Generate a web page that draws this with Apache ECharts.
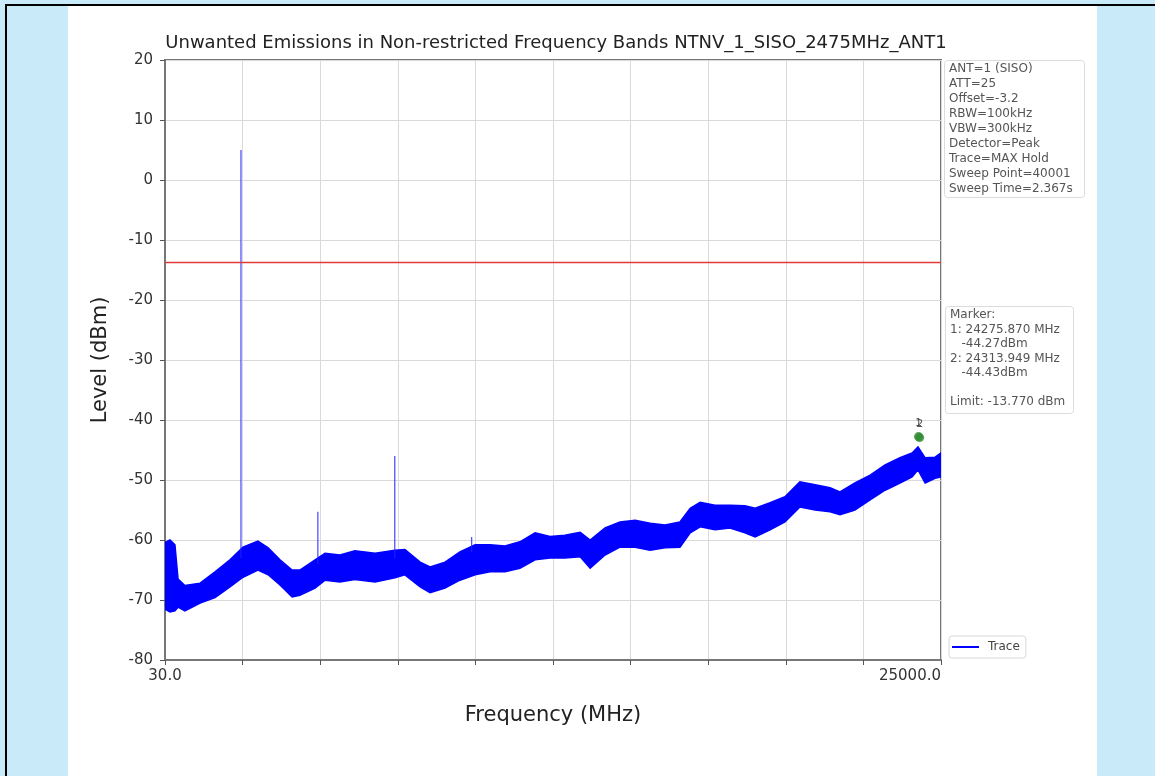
<!DOCTYPE html>
<html><head><meta charset="utf-8">
<script src="https://cdn.jsdelivr.net/npm/echarts@6/dist/echarts.min.js"></script>
<style>
html,body{margin:0;padding:0;width:1155px;height:776px;overflow:hidden;background:#c9eaf9;}
#frame{position:absolute;left:5px;top:4px;width:1160px;height:790px;border-left:2px solid #000;border-top:2px solid #000;}
#panel{position:absolute;left:68px;top:6px;width:1029px;height:780px;background:#fff;}
#chart{position:absolute;left:0;top:0;width:1155px;height:776px;}
</style></head><body>
<div id="frame"></div><div id="panel"></div><div id="chart"></div>
<script>
// Trace envelope (MHz, dBm)
const freqMHz = [30,190,350,450,670,1160,1640,2120,2540,3020,3350,3730,4120,4370,4860,5180,5660,6140,6790,7430,7750,8240,8560,9040,9520,10010,10490,10970,11450,11940,12420,12900,13390,13710,14190,14670,15160,15640,16120,16600,16930,17250,17730,18210,18690,19020,19500,19980,20460,20950,21430,21750,22230,22720,23200,23680,24070,24260,24490,24810,25000];
const upperDbm = [-60.4,-60,-60.8,-66.5,-67.6,-67.2,-65.3,-63.3,-61.2,-60.2,-61.3,-63.3,-65,-65,-63.3,-62.2,-62.5,-61.8,-62.2,-61.7,-61.6,-63.7,-64.5,-63.7,-62,-60.8,-60.8,-61,-60.3,-58.8,-59.4,-59.2,-58.7,-60,-58,-57,-56.7,-57.2,-57.5,-57,-54.7,-53.7,-54.2,-54.2,-54.3,-54.7,-53.8,-52.8,-50.3,-50.8,-51.3,-52,-50.5,-49.2,-47.5,-46.3,-45.5,-44.5,-46.3,-46.2,-45.5];
const lowerDbm = [-71.5,-72,-71.8,-71.2,-71.8,-70.5,-69.6,-67.8,-66.2,-65,-65.8,-67.5,-69.5,-69.2,-68,-66.7,-67,-66.6,-67,-66.3,-65.8,-67.8,-68.8,-68,-66.7,-65.8,-65.3,-65.3,-64.7,-63.3,-63,-63,-62.8,-64.7,-62.5,-61.2,-61.2,-61.7,-61.3,-61.2,-58.8,-57.8,-58.3,-58,-58.8,-59.5,-58.3,-57,-54.5,-55,-55.3,-55.8,-55,-53.3,-51.7,-50.5,-49.5,-48.3,-50.5,-49.7,-49.5];
// Narrow spurious peaks
const spikeFreqMHz = [2475, 4950, 7425, 9900];
const spikePeakDbm = [5, -55.3, -46, -59.5];
const spikeBaseDbm = [-63, -64, -63, -62];
// Limit & markers
const limitDbm = -13.77;
const markerFreqMHz = [24275.870, 24313.949];
const markerDbm = [-44.27, -44.43];
const markerNames = ['1', '2'];
const xMin = 30, xMax = 25000;
const yMin = -80, yMax = 20;

const infoText = ['ANT=1 (SISO)','ATT=25','Offset=-3.2','RBW=100kHz','VBW=300kHz','Detector=Peak','Trace=MAX Hold','Sweep Point=40001','Sweep Time=2.367s'];
const markerText = ['Marker:','1: 24275.870 MHz','   -44.27dBm','2: 24313.949 MHz','   -44.43dBm','','Limit: -13.770 dBm'];

const FONT = 'DejaVu Sans';
const chart = echarts.init(document.getElementById('chart'), null, {renderer:'canvas'});
const bandData = [[freqMHz[0], upperDbm[0]]];
const spikeData = spikeFreqMHz.map((f,i)=>[f, spikePeakDbm[i], spikeBaseDbm[i]]);

const option = {
  backgroundColor: 'transparent',
  animation: false,
  textStyle: {fontFamily: FONT},
  title: {
    text: 'Unwanted Emissions in Non-restricted Frequency Bands NTNV_1_SISO_2475MHz_ANT1',
    left: 551, top: 29, textAlign: 'center',
    textStyle: {fontFamily: FONT, fontSize: 18, fontWeight: 'normal', color: '#222'}
  },
  grid: {left: 165, right: 214, top: 60, bottom: 116, show: true, borderColor: '#777', borderWidth: 2, containLabel: false},
  legend: {
    data: [{name: 'Trace', icon: 'rect'}],
    left: 949, top: 636, orient: 'vertical',
    itemWidth: 27, itemHeight: 2,
    backgroundColor: '#fff', borderColor: '#d8d8d8', borderWidth: 1, borderRadius: 3,
    padding: [5, 6, 5, 3],
    textStyle: {fontFamily: FONT, fontSize: 12, color: '#444', padding: [0, 0, 0, 4]}
  },
  xAxis: {
    type: 'value', min: xMin, max: xMax, interval: (xMax - xMin) / 10,
    name: 'Frequency (MHz)', nameLocation: 'middle', nameGap: 45,
    nameTextStyle: {fontFamily: FONT, fontSize: 21, color: '#222'},
    axisLine: {show: true, onZero: false, lineStyle: {color: '#777', width: 2}},
    axisTick: {show: true, inside: false, length: 5, lineStyle: {color: '#555'}},
    splitLine: {show: true, lineStyle: {color: '#d9d9d9', width: 1}},
    axisLabel: {
      fontFamily: FONT, fontSize: 15, color: '#333', margin: 9,
      showMinLabel: true, showMaxLabel: true, alignMaxLabel: 'right',
      formatter: v => (Math.abs(v - xMin) < 1 ? xMin.toFixed(1) : (Math.abs(v - xMax) < 1 ? xMax.toFixed(1) : ''))
    }
  },
  yAxis: {
    type: 'value', min: yMin, max: yMax, interval: 10,
    name: 'Level (dBm)', nameLocation: 'middle', nameGap: 54,
    nameTextStyle: {fontFamily: FONT, fontSize: 21, color: '#222'},
    axisLine: {show: true, onZero: false, lineStyle: {color: '#777', width: 2}},
    axisTick: {show: true, inside: false, length: 5, lineStyle: {color: '#555'}},
    splitLine: {show: true, lineStyle: {color: '#d9d9d9', width: 1}},
    axisLabel: {fontFamily: FONT, fontSize: 15, color: '#333', margin: 12,
      formatter: v => String(v)}
  },
  series: [
    {
      name: 'Trace', type: 'custom', clip: true,
      itemStyle: {color: '#0000ff'},
      data: bandData,
      encode: {x: 0, y: 1},
      renderItem: function (params, api) {
        const pts = [];
        for (let i = 0; i < freqMHz.length; i++) pts.push(api.coord([freqMHz[i], upperDbm[i]]));
        for (let i = freqMHz.length - 1; i >= 0; i--) pts.push(api.coord([freqMHz[i], lowerDbm[i]]));
        return {type: 'polygon', shape: {points: pts}, style: {fill: '#0000ff', stroke: '#0000ff', lineWidth: 1.5}};
      },
      z: 2
    },
    {
      name: 'Spikes', type: 'custom', clip: true,
      data: spikeData,
      encode: {x: 0, y: 1},
      renderItem: function (params, api) {
        const top = api.coord([api.value(0), api.value(1)]);
        const bot = api.coord([api.value(0), api.value(2)]);
        return {type: 'line', shape: {x1: top[0], y1: top[1], x2: bot[0], y2: bot[1]}, style: {stroke: '#2020ff', lineWidth: 1}};
      },
      z: 3
    },
    {
      name: 'Limit', type: 'line', symbol: 'none', silent: true,
      data: [[xMin, limitDbm], [xMax, limitDbm]],
      lineStyle: {color: '#e03a3a', width: 1.5}, z: 4
    },
    {
      name: 'Markers', type: 'scatter', symbol: 'circle', symbolSize: 9,
      symbolOffset: [0, -9],
      data: markerFreqMHz.map((f, i) => ({value: [f, markerDbm[i]], label: {formatter: markerNames[i]}})),
      itemStyle: {color: '#2e8b2e'},
      label: {show: true, position: 'top', distance: 3, fontFamily: FONT, fontSize: 11, color: '#333'},
      z: 5
    }
  ],
  graphic: [
    {type: 'rect', left: 944, top: 60, shape: {width: 140, height: 137, r: 3}, style: {fill: '#fff', stroke: '#dcdcdc', lineWidth: 1}, z: 10},
    {type: 'text', left: 949, top: 61, style: {text: infoText.join('\n'), fontFamily: FONT, fontSize: 12, lineHeight: 15, fill: '#555'}, z: 11},
    {type: 'rect', left: 945, top: 306, shape: {width: 128, height: 107, r: 3}, style: {fill: '#fff', stroke: '#dcdcdc', lineWidth: 1}, z: 10},
    {type: 'text', left: 950, top: 308, style: {text: markerText.join('\n'), fontFamily: FONT, fontSize: 12, lineHeight: 14.5, fill: '#555'}, z: 11}
  ]
};
chart.setOption(option);
</script>
</body></html>
